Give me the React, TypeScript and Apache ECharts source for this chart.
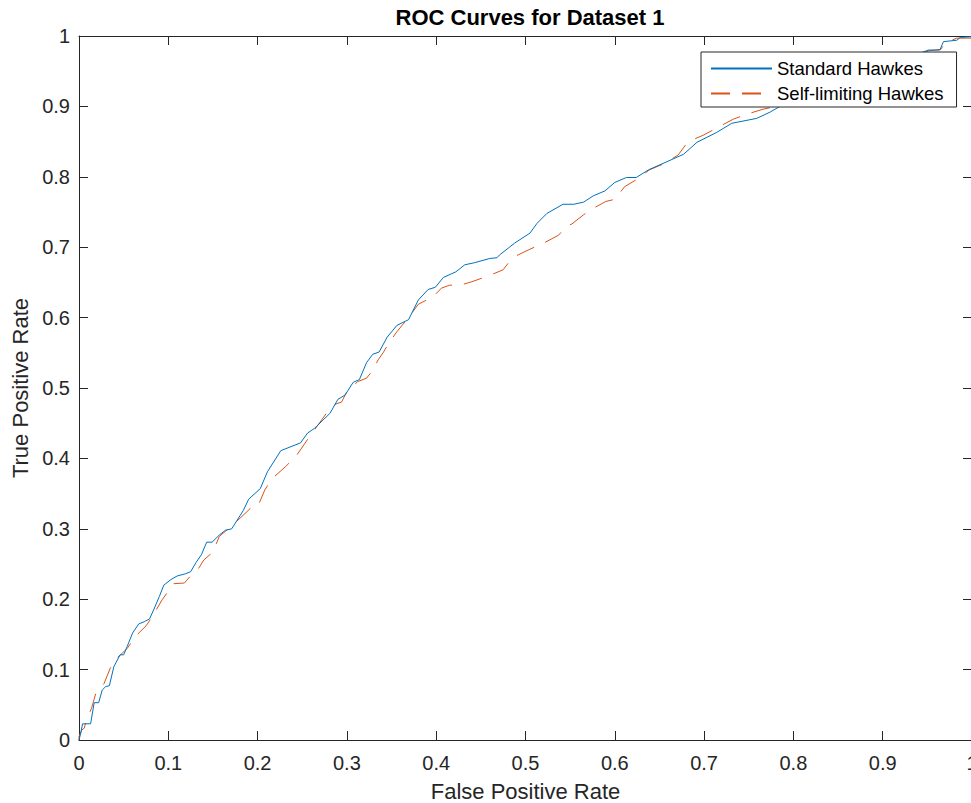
import React, { useEffect, useRef } from "react";
import * as echarts from "echarts";

const titleText = "ROC Curves for Dataset 1";
const xAxisName = "False Positive Rate";
const yAxisName = "True Positive Rate";
const seriesNames = ["Standard Hawkes", "Self-limiting Hawkes"];

const standardHawkes: number[][] = [
  [0, 0], [0.002, 0.01], [0.004, 0.023], [0.013, 0.023], [0.017, 0.053], [0.022, 0.053],
  [0.026, 0.071], [0.03, 0.076], [0.034, 0.077], [0.039, 0.104], [0.046, 0.121], [0.05, 0.121],
  [0.054, 0.133], [0.06, 0.152], [0.067, 0.165], [0.073, 0.168], [0.079, 0.172], [0.084, 0.186],
  [0.09, 0.204], [0.095, 0.22], [0.103, 0.228], [0.11, 0.233], [0.119, 0.236], [0.125, 0.239],
  [0.131, 0.252], [0.137, 0.263], [0.143, 0.281], [0.149, 0.281], [0.157, 0.291], [0.164, 0.298],
  [0.171, 0.3], [0.177, 0.312], [0.184, 0.326], [0.19, 0.342], [0.203, 0.357], [0.211, 0.381],
  [0.226, 0.411], [0.248, 0.422], [0.256, 0.436], [0.264, 0.443], [0.281, 0.464], [0.29, 0.484],
  [0.298, 0.49], [0.307, 0.508], [0.314, 0.512], [0.322, 0.536], [0.329, 0.548], [0.336, 0.551],
  [0.345, 0.572], [0.356, 0.589], [0.369, 0.597], [0.38, 0.625], [0.391, 0.64], [0.399, 0.643],
  [0.408, 0.657], [0.422, 0.665], [0.432, 0.675], [0.443, 0.678], [0.46, 0.684], [0.468, 0.685],
  [0.471, 0.689], [0.488, 0.706], [0.505, 0.72], [0.513, 0.734], [0.524, 0.748], [0.542, 0.761],
  [0.554, 0.761], [0.565, 0.764], [0.576, 0.773], [0.589, 0.78], [0.6, 0.792], [0.613, 0.799],
  [0.624, 0.799], [0.638, 0.81], [0.654, 0.819], [0.677, 0.832], [0.692, 0.849], [0.714, 0.863],
  [0.731, 0.876], [0.759, 0.883], [0.774, 0.892], [0.785, 0.9], [0.8, 0.905], [0.84, 0.925],
  [0.88, 0.945], [0.92, 0.965], [0.951, 0.98], [0.964, 0.98], [0.968, 0.992], [0.983, 0.994],
  [0.987, 0.998], [1, 0.999], [1, 1],
];

const selfLimitingHawkes: number[][] = [
  [0, 0], [0, 0.005], [0.003, 0.014], [0.006, 0.017], [0.008, 0.028], [0.014, 0.045], [0.019, 0.067],
  [0.028, 0.08], [0.035, 0.102], [0.043, 0.117], [0.054, 0.13], [0.063, 0.147], [0.075, 0.162],
  [0.082, 0.175], [0.093, 0.199], [0.101, 0.213], [0.106, 0.222], [0.118, 0.223], [0.127, 0.236],
  [0.134, 0.244], [0.14, 0.256], [0.15, 0.267], [0.157, 0.289], [0.171, 0.304], [0.187, 0.323],
  [0.196, 0.334], [0.201, 0.334], [0.208, 0.355], [0.216, 0.371], [0.231, 0.388], [0.243, 0.403],
  [0.256, 0.427], [0.264, 0.441], [0.277, 0.464], [0.287, 0.477], [0.294, 0.48], [0.3, 0.495],
  [0.312, 0.509], [0.322, 0.514], [0.329, 0.525], [0.335, 0.54], [0.341, 0.551], [0.346, 0.562],
  [0.356, 0.58], [0.369, 0.6], [0.38, 0.619], [0.391, 0.626], [0.396, 0.629], [0.406, 0.642],
  [0.415, 0.646], [0.427, 0.646], [0.44, 0.651], [0.46, 0.66], [0.475, 0.668], [0.483, 0.681],
  [0.49, 0.688], [0.503, 0.696], [0.522, 0.707], [0.537, 0.717], [0.546, 0.73], [0.552, 0.733],
  [0.565, 0.746], [0.577, 0.756], [0.59, 0.765], [0.6, 0.768], [0.611, 0.786], [0.623, 0.795],
  [0.639, 0.81], [0.654, 0.818], [0.671, 0.831], [0.682, 0.85], [0.699, 0.859], [0.718, 0.872],
  [0.733, 0.882], [0.748, 0.889], [0.766, 0.896], [0.781, 0.9], [0.804, 0.903], [0.85, 0.92],
  [0.9, 0.945], [0.94, 0.97], [0.951, 0.979], [0.965, 0.981], [0.97, 0.99], [0.983, 0.997],
  [1, 0.997], [1, 1],
];

const FONT = '"Liberation Sans", Arial, Helvetica, sans-serif';
const AX = "#262626";

export default function App() {
  const ref = useRef<HTMLDivElement>(null);
  useEffect(() => {
    if (!ref.current) return;
    const chart = echarts.init(ref.current, undefined, { renderer: "svg" });
    const fmt = (v: number) => String(Math.round(v * 10) / 10);
    const axisCommon = {
      min: 0,
      max: 1,
      interval: 0.1,
      axisLine: { show: true, onZero: false, lineStyle: { color: AX, width: 1 } },
      axisTick: { show: true, inside: true, length: 9, lineStyle: { color: AX, width: 1 } },
      splitLine: { show: false },
    };
    chart.setOption({
      animation: false,
      backgroundColor: "#ffffff",
      title: {
        text: titleText,
        left: 525,
        textAlign: "center",
        top: 1,
        textStyle: { fontFamily: FONT, fontSize: 22, fontWeight: "bold", color: "#000" },
      },
      grid: { left: 79, top: 36, width: 893, height: 704, outerBoundsMode: "none", containLabel: false },
      legend: {
        orient: "vertical",
        left: 701,
        top: 52,
        padding: [7, 13, 4, 9],
        itemWidth: 61,
        itemHeight: 18,
        itemGap: 6,
        backgroundColor: "#ffffff",
        borderColor: AX,
        borderWidth: 1,
        borderRadius: 0,
        itemStyle: { opacity: 0 },
        textStyle: { fontFamily: FONT, fontSize: 18.5, color: "#000" },
        data: seriesNames,
      },
      xAxis: [
        {
          type: "value",
          position: "bottom",
          ...axisCommon,
          name: xAxisName,
          nameLocation: "middle",
          nameGap: 40,
          nameTextStyle: { fontFamily: FONT, fontSize: 22, color: AX },
          axisLabel: { fontFamily: FONT, fontSize: 20, color: AX, margin: 13, formatter: fmt },
        },
        {
          type: "value",
          position: "top",
          ...axisCommon,
          axisLabel: { show: false },
        },
      ],
      yAxis: [
        {
          type: "value",
          position: "left",
          ...axisCommon,
          name: yAxisName,
          nameLocation: "middle",
          nameGap: 46,
          nameTextStyle: { fontFamily: FONT, fontSize: 22, color: AX },
          axisLabel: { fontFamily: FONT, fontSize: 20, color: AX, margin: 9, formatter: fmt },
        },
        {
          type: "value",
          position: "right",
          ...axisCommon,
          axisLabel: { show: false },
        },
      ],
      series: [
        {
          name: seriesNames[0],
          type: "line",
          data: standardHawkes,
          symbol: "none",
          lineStyle: { color: "#0072BD", width: 1 },
          itemStyle: { color: "#0072BD" },
          z: 3,
        },
        {
          name: seriesNames[1],
          type: "line",
          data: selfLimitingHawkes,
          symbol: "none",
          lineStyle: { color: "#D95319", width: 1, type: [19, 12] },
          itemStyle: { color: "#D95319" },
          z: 2,
        },
      ],
    });
    return () => chart.dispose();
  }, []);
  return (
    <div
      ref={ref}
      style={{ position: "fixed", left: 0, top: 0, width: 971, height: 803, background: "#fff" }}
    />
  );
}
